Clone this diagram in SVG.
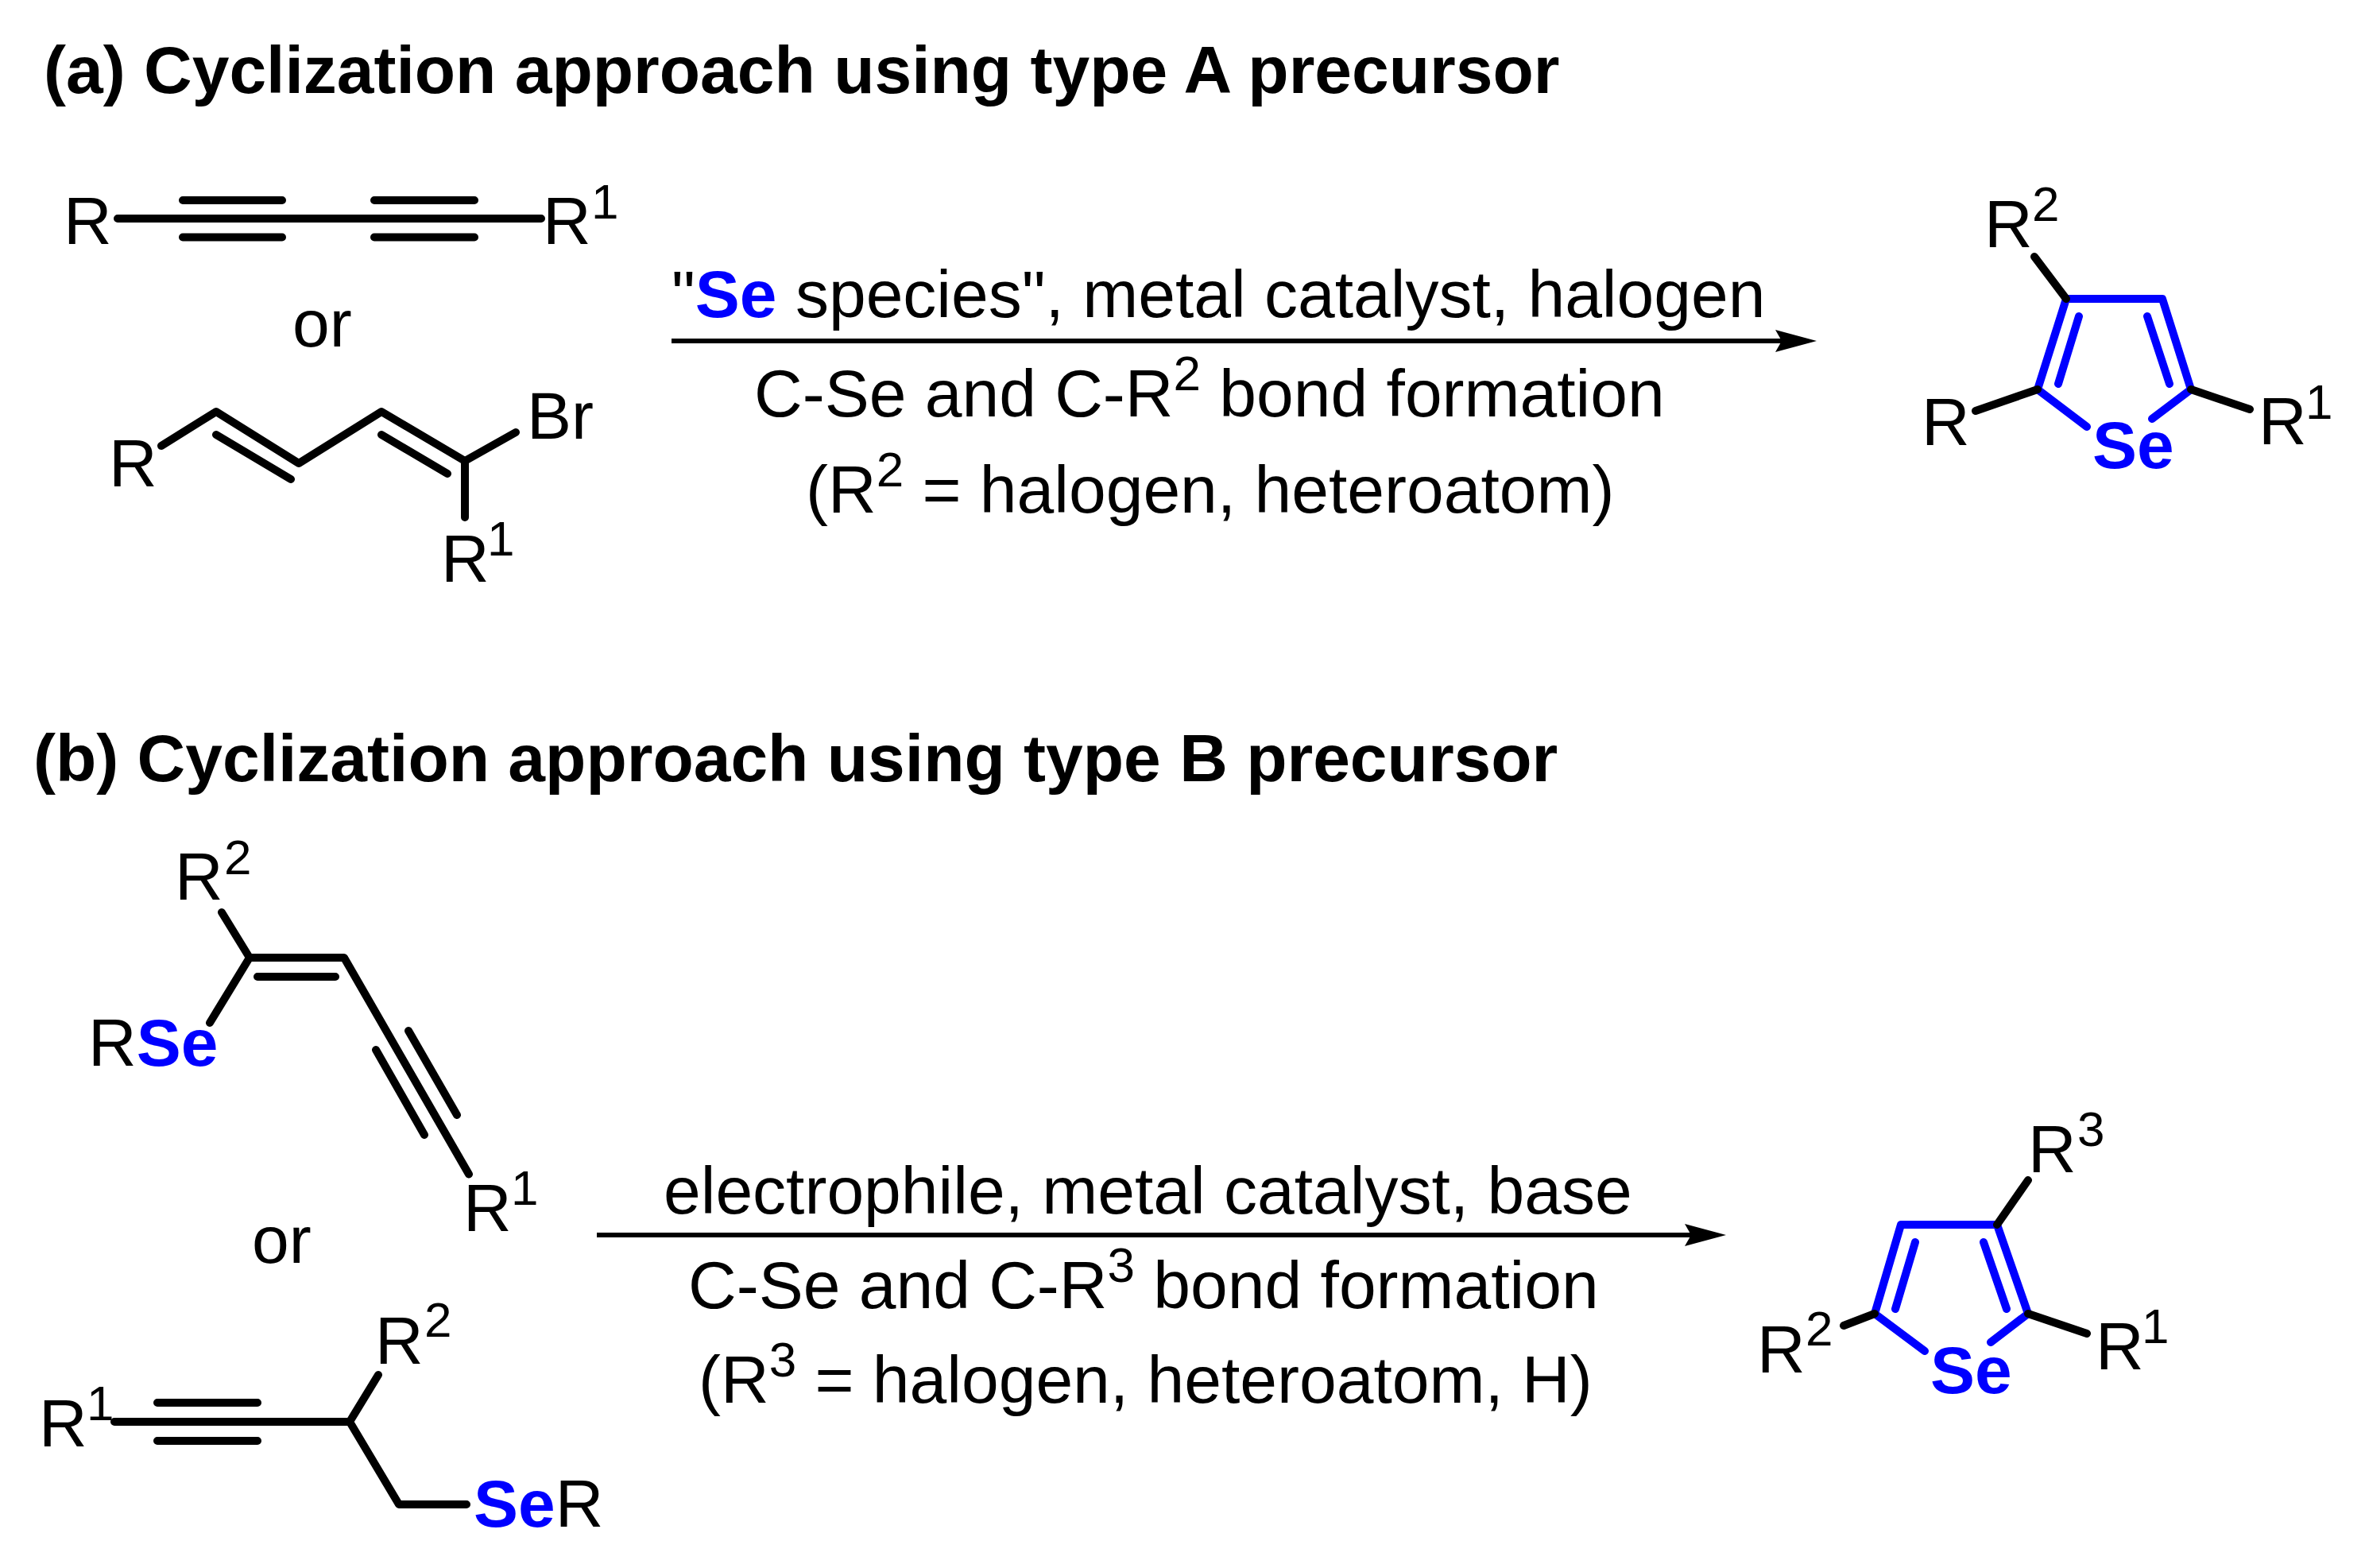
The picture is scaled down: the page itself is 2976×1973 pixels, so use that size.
<svg xmlns="http://www.w3.org/2000/svg" width="2976" height="1973" viewBox="0 0 2976 1973">
<style>
text{font-family:"Liberation Sans",Arial,sans-serif;font-size:84px;fill:#000}
.t{font-weight:700}
.se{font-weight:700;fill:#00f}
.s{font-size:62px}
.k,.u{fill:none;stroke-linecap:round;stroke-linejoin:round}
.k{stroke:#000;stroke-width:10}
.u{stroke:#00f;stroke-width:10}
.a{stroke:#000;stroke-width:6;fill:none}
</style>
<defs>
<marker id="arrow" markerUnits="userSpaceOnUse" markerWidth="54" markerHeight="30" refX="16" refY="14" orient="auto" viewBox="0 0 54 28">
<path d="M0 0L52 14L0 28L8 14Z" fill="#000"/>
</marker>
</defs>
<rect width="2976" height="1973" fill="#fff"/>
<g id="titles">
<text id="title-a" class="t" x="55" y="117">(a) Cyclization approach using type A precursor</text>
<text id="title-b" class="t" x="42" y="983">(b) Cyclization approach using type B precursor</text>
</g>
<g id="connectors">
<line class="a" x1="845" y1="429" x2="2250" y2="429" marker-end="url(#arrow)"/>
<line class="a" x1="751" y1="1554" x2="2136" y2="1554" marker-end="url(#arrow)"/>
</g>
<g id="conditions-a">
<text x="845" y="399">"<tspan class="se">Se</tspan> species", metal catalyst, halogen</text>
<text x="949" y="524">C-Se and C-R<tspan class="s" dy="-33">2</tspan><tspan dy="33"> bond formation</tspan></text>
<text x="1014" y="645">(R<tspan class="s" dy="-33">2</tspan><tspan dy="33"> = halogen, heteroatom)</tspan></text>
</g>
<g id="conditions-b">
<text x="835" y="1527">electrophile, metal catalyst, base</text>
<text x="866" y="1646">C-Se and C-R<tspan class="s" dy="-33">3</tspan><tspan dy="33"> bond formation</tspan></text>
<text x="879" y="1765">(R<tspan class="s" dy="-33">3</tspan><tspan dy="33"> = halogen, heteroatom, H)</tspan></text>
</g>
<g id="diyne">
<path class="k" d="M148 275H681M230 252H355M230 298.500H355M471 252H597M471 298.500H597"/>
<text x="80" y="307">R</text>
<text x="683" y="307">R</text>
<text class="s" x="744" y="275">1</text>
</g>
<text id="or-a" x="368" y="436">or</text>
<g id="bromodiene">
<path class="k" d="M203 561L272 518L376 583L480 518L585 580L649 544M585 580V651M272 547L366 603M480 547L563 596"/>
<text x="137" y="612">R</text>
<text x="663" y="552">Br</text>
<text x="555" y="732">R</text>
<text class="s" x="613" y="699">1</text>
</g>
<g id="selenophene-a">
<path class="u" d="M2626 537L2564 490L2600 376H2721L2757 490L2708 527M2616 398L2590 483M2702 398L2730 483"/>
<path class="k" d="M2486 517L2564 490M2831 515L2757 490M2560 323L2600 376"/>
<text x="2418" y="560">R</text>
<text x="2842" y="559">R</text>
<text class="s" x="2901" y="527">1</text>
<text x="2497" y="311">R</text>
<text class="s" x="2557" y="278">2</text>
<text class="se" x="2633" y="589">Se</text>
</g>
<g id="enyne">
<path class="k" d="M279 1148L314 1205L264 1287M314 1205H433L590 1477.500M324 1229H422M514 1297L575 1403M473 1321L534 1428"/>
<text x="220" y="1132">R</text>
<text class="s" x="282" y="1100">2</text>
<text x="111" y="1341">R<tspan class="se">Se</tspan></text>
<text x="583" y="1549">R</text>
<text class="s" x="643" y="1516">1</text>
</g>
<text id="or-b" x="317" y="1589">or</text>
<g id="alkyne">
<path class="k" d="M144 1789H440L476 1730M440 1789L502 1893H587M198 1765H324M198 1813H324"/>
<text x="49" y="1820">R</text>
<text class="s" x="109" y="1787">1</text>
<text x="472" y="1716">R</text>
<text class="s" x="534" y="1682">2</text>
<text x="596" y="1921"><tspan class="se">Se</tspan>R</text>
</g>
<g id="selenophene-b">
<path class="u" d="M2422 1700L2359 1653L2392 1541H2513L2552 1653L2505 1689M2410 1563L2385 1647M2496 1563L2525 1647"/>
<path class="k" d="M2320 1668L2359 1653M2626 1678L2552 1653M2552 1485L2513 1541"/>
<text x="2552" y="1475">R</text>
<text class="s" x="2614" y="1442">3</text>
<text x="2211" y="1727">R</text>
<text class="s" x="2272" y="1693">2</text>
<text x="2637" y="1723">R</text>
<text class="s" x="2695" y="1690">1</text>
<text class="se" x="2429" y="1753">Se</text>
</g>
</svg>
